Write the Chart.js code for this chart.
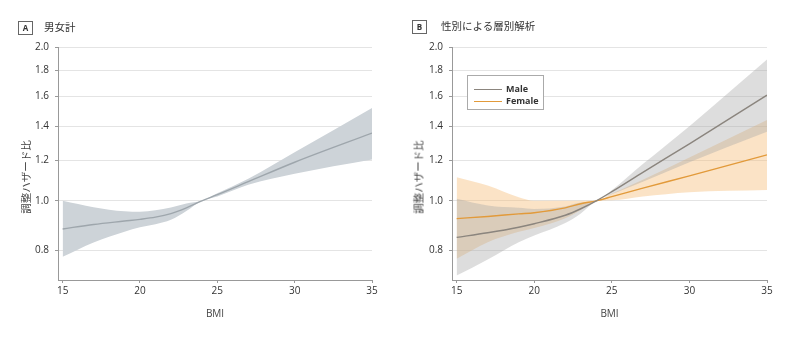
<!DOCTYPE html>
<html>
<head>
<meta charset="utf-8">
<script src="https://cdn.jsdelivr.net/npm/chart.js@4.4.1/dist/chart.umd.min.js"></script>
<style>
  body { margin: 0; background: #fff; }
  #wrap { position: relative; width: 801px; height: 339px; overflow: hidden; font-family: "Noto Sans CJK JP", "Noto Sans", sans-serif; color: #333; }
  .panel { position: absolute; top: 0; height: 339px; }
  .tag { position: absolute; width: 13px; height: 12px; border: 1px solid #666; font: bold 8px "Open Sans", sans-serif; text-align: center; line-height: 12px; color: #333; }
  .ttl { position: absolute; font-size: 10.5px; line-height: 14px; color: #333; white-space: nowrap; }
  .ytl { position: absolute; font-size: 10.5px; color: #444; white-space: nowrap; transform: translate(-50%, -50%) rotate(-90deg); }
  #legend { position: absolute; left: 467px; top: 75px; width: 75px; height: 33px; border: 1px solid #aaa; background: #fff; }
  .lg { position: absolute; left: 6px; width: 28px; height: 0; border-top: 1.5px solid; }
  .lt { position: absolute; left: 38px; font: bold 9px "Open Sans", sans-serif; color: #333; }
</style>
</head>
<body>
<div id="wrap">
  <div class="panel" style="left:0;width:400px"><canvas id="chartA" width="400" height="339"></canvas></div>
  <div class="panel" style="left:400px;width:401px"><canvas id="chartB" width="401" height="339"></canvas></div>

  <div class="tag" style="left:18px;top:21px">A</div>
  <div class="ttl" style="left:44px;top:20px">男女計</div>
  <div class="ytl" style="left:25px;top:177px">調整ハザード比</div>

  <div class="tag" style="left:412px;top:20px">B</div>
  <div class="ttl" style="left:441px;top:19px">性別による層別解析</div>
  <div class="ytl" style="left:418px;top:177px">調整ハザード比</div>

  <div id="legend">
    <div class="lg" style="top:13px;border-color:#8b857e"></div><div class="lt" style="top:6px">Male</div>
    <div class="lg" style="top:25px;border-color:#e29a3a"></div><div class="lt" style="top:18px">Female</div>
  </div>
</div>
<script>
// tick labels
const xTicks = [15, 20, 25, 30, 35];
const yTicks = [0.8, 1.0, 1.2, 1.4, 1.6, 1.8, 2.0];

// panel A: all subjects
const bmiA = [15, 17, 19, 20, 21, 22, 23, 24, 25, 27, 30, 35];
const allHR = [0.881, 0.899, 0.913, 0.920, 0.929, 0.944, 0.969, 1.0, 1.028, 1.090, 1.190, 1.357];
const allUpper = [1.0, 0.972, 0.954, 0.952, 0.958, 0.970, 0.988, 1.0, 1.035, 1.105, 1.245, 1.52];
const allLower = [0.777, 0.829, 0.870, 0.888, 0.900, 0.918, 0.955, 1.0, 1.020, 1.075, 1.130, 1.205];

// panel B: by sex
const bmiB = [15, 17, 19, 20, 22, 23, 24, 25, 27, 30, 35];
const maleHR = [0.848, 0.866, 0.888, 0.902, 0.937, 0.965, 1.0, 1.042, 1.137, 1.293, 1.61];
const maleUpper = [1.009, 0.979, 0.969, 0.964, 0.975, 0.992, 1.0, 1.049, 1.18, 1.40, 1.89];
const maleLower = [0.714, 0.768, 0.830, 0.855, 0.905, 0.945, 1.0, 1.03, 1.09, 1.19, 1.365];
const femaleHR = [0.923, 0.932, 0.943, 0.948, 0.969, 0.987, 1.0, 1.019, 1.059, 1.119, 1.23];
const femaleUpper = [1.112, 1.071, 1.016, 1.0, 1.0, 1.0, 1.0, 1.033, 1.10, 1.216, 1.44];
const femaleLower = [0.770, 0.830, 0.870, 0.885, 0.925, 0.960, 1.0, 1.003, 1.020, 1.040, 1.050];

const pts = (xs, ys) => xs.map((x, i) => ({x: x, y: ys[i]}));

function band(xs, up, lo, fillColor) {
  return [
    {data: pts(xs, up), fill: '+1', backgroundColor: fillColor, borderWidth: 0, pointRadius: 0, cubicInterpolationMode: 'monotone'},
    {data: pts(xs, lo), fill: false, borderWidth: 0, pointRadius: 0, cubicInterpolationMode: 'monotone'}
  ];
}

function line(xs, ys, color) {
  return {data: pts(xs, ys), fill: false, borderColor: color, borderWidth: 1.4, pointRadius: 0, cubicInterpolationMode: 'monotone'};
}

function makeOptions(axisWidth, padRight) {
  return {
    responsive: false,
    animation: false,
    events: [],
    layout: {padding: {left: 0, top: 47, right: padRight, bottom: 9}},
    plugins: {legend: {display: false}, tooltip: {enabled: false}, filler: {drawTime: 'beforeDatasetsDraw'}},
    scales: {
      x: {
        type: 'linear', min: 14.7, max: 35,
        afterBuildTicks: s => { s.ticks = xTicks.map(v => ({value: v})); },
        afterFit: s => { s.height = 50; },
        grid: {drawOnChartArea: false, tickLength: 3, tickColor: '#999'},
        border: {color: '#999'},
        ticks: {padding: 2, color: '#333', font: {family: 'Open Sans', size: 10}, maxRotation: 0},
        title: {display: true, text: 'BMI', color: '#444', font: {family: 'Open Sans', size: 10}, padding: {top: 0, bottom: 10}}
      },
      y: {
        type: 'logarithmic', min: 0.7, max: 2.0,
        afterBuildTicks: s => { s.ticks = yTicks.map(v => ({value: v})); },
        afterFit: s => { s.width = axisWidth; },
        grid: {color: '#e4e4e4', tickLength: 3, tickColor: '#999'},
        border: {color: '#999'},
        ticks: {padding: 6, color: '#333', font: {family: 'Open Sans', size: 10}, callback: v => Number(v).toFixed(1)}
      }
    }
  };
}

new Chart(document.getElementById('chartA'), {
  type: 'line',
  data: {
    datasets: [
      ...band(bmiA, allUpper, allLower, '#cdd3d8'),
      line(bmiA, allHR, '#9ea6ac')
    ]
  },
  options: makeOptions(58, 28)
});

new Chart(document.getElementById('chartB'), {
  type: 'line',
  data: {
    datasets: [
      ...band(bmiB, maleUpper, maleLower, 'rgba(165,165,165,0.38)'),
      ...band(bmiB, femaleUpper, femaleLower, 'rgba(245,188,118,0.42)'),
      line(bmiB, maleHR, '#8b857e'),
      line(bmiB, femaleHR, '#e29a3a')
    ]
  },
  options: makeOptions(52, 34)
});
</script>
</body>
</html>
